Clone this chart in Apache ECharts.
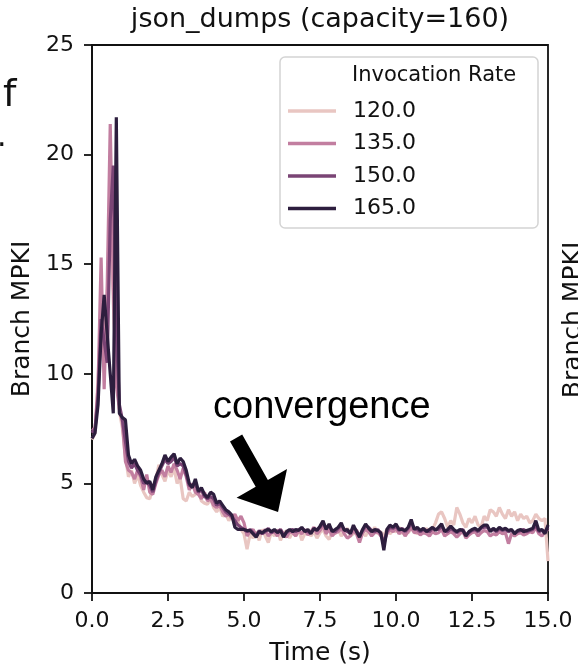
<!DOCTYPE html>
<html>
<head>
<meta charset="utf-8">
<script src="https://cdn.jsdelivr.net/npm/echarts@6/dist/echarts.min.js"></script>
<style>
  html, body { margin: 0; padding: 0; background: #fff; }
  #chart { width: 578px; height: 671px; }
</style>
</head>
<body>
<div id="chart"></div>
<script>
// sampled every 0.1 s, from 0.0 to 15.0
const timeStep = 0.1;
const rates = ['120.0', '135.0', '150.0', '165.0'];
const colors = ['#e9c6c2', '#c27ea0', '#7a4475', '#2d1e3e'];

const rate120 = [7.0,7.3,9.8,12.8,11.5,13.5,18.5,13.2,10.2,8.3,
  7.5,6.2,5.3,5.6,5.0,5.4,4.9,4.6,4.35,4.3,
  4.8,5.2,5.85,5.4,5.1,5.6,5.3,5.7,5.0,5.25,
  4.3,4.2,4.6,4.4,4.5,4.65,4.2,4.1,4.05,4.3,
  3.9,3.7,3.9,3.5,3.6,3.3,3.5,3.1,3.3,2.9,
  2.7,2.0,2.7,2.5,2.8,2.4,2.9,2.6,2.3,2.8,
  2.6,2.9,2.4,2.7,2.85,2.5,2.8,2.6,2.9,2.4,
  2.7,2.9,2.6,2.8,2.5,2.75,2.9,2.6,2.45,2.8,
  2.7,2.9,2.6,2.8,2.95,2.6,2.7,2.9,2.5,2.8,
  2.6,2.9,2.75,3.0,2.7,2.8,2.6,2.9,2.7,2.85,
  2.8,3.0,2.7,2.9,2.75,2.95,2.8,2.7,2.9,2.8,
  2.95,2.7,2.9,3.2,3.6,3.7,3.4,3.0,3.3,3.1,
  3.9,3.6,3.2,3.0,3.4,3.2,3.5,3.1,3.0,3.5,
  3.3,3.8,3.7,3.5,3.9,3.6,3.4,3.8,3.5,3.7,
  3.3,3.6,3.4,3.5,3.2,3.3,3.6,3.4,3.3,3.4,
  1.45];

const rate135 = [7.5,7.4,9.5,15.3,9.3,14.0,21.4,14.0,9.5,8.4,
  7.8,6.0,5.6,5.5,5.2,5.6,5.3,4.7,5.4,4.6,
  4.5,5.0,5.4,5.6,5.3,5.8,5.5,5.9,5.6,5.2,
  5.7,5.3,4.7,5.0,4.6,4.5,4.3,4.6,4.2,4.3,
  4.0,3.9,4.0,3.7,3.5,3.6,3.4,3.6,3.3,3.5,
  3.2,2.6,2.8,2.9,2.6,2.8,2.7,2.9,2.6,2.75,
  2.8,2.6,2.9,2.7,2.55,2.8,2.75,2.6,2.85,2.7,
  2.9,2.65,2.8,3.0,2.7,2.85,3.1,2.7,2.9,2.6,
  2.75,2.8,2.95,2.7,2.5,2.6,2.85,2.7,2.3,2.75,
  2.9,2.8,2.6,2.75,2.8,2.6,2.4,2.7,2.9,2.8,
  2.95,2.7,2.85,2.6,2.8,3.0,2.75,2.8,2.65,2.75,
  2.7,2.6,2.8,2.7,2.75,2.9,2.6,2.7,2.8,2.7,
  2.55,2.7,2.8,2.5,2.65,2.75,2.8,2.6,2.75,2.85,
  2.8,2.6,2.7,2.65,2.8,2.7,2.75,2.25,2.7,2.6,
  2.7,2.75,2.65,2.7,2.8,2.75,3.0,2.7,2.6,2.8,
  2.9];

const rate150 = [7.3,7.5,9.0,12.5,11.5,10.5,17.0,19.5,12.0,8.6,
  7.9,6.9,6.0,5.7,5.9,5.6,5.4,5.0,5.1,4.9,
  4.6,5.1,5.5,5.8,6.1,5.9,6.0,6.2,5.8,5.9,
  5.8,5.4,4.9,4.9,5.0,4.6,4.7,4.4,4.3,4.4,
  4.3,4.0,4.1,3.9,3.7,3.6,3.5,3.3,3.1,3.0,
  2.9,2.8,2.9,2.75,2.6,2.85,2.7,2.8,2.95,2.75,
  2.85,2.8,2.9,2.6,2.75,2.85,2.9,2.8,2.9,2.95,
  2.85,2.8,2.75,2.9,2.9,3.0,3.2,2.95,3.05,2.85,
  2.8,2.95,3.1,2.9,2.8,2.75,3.0,2.85,2.6,2.85,
  3.05,3.0,2.85,2.8,2.9,2.7,2.2,2.8,3.0,2.95,
  3.05,2.85,2.95,2.8,2.95,3.2,2.95,2.9,2.8,2.9,
  2.85,2.8,2.95,2.9,2.9,3.05,2.85,2.8,2.95,2.85,
  2.75,2.85,2.9,2.65,2.75,2.85,2.9,2.8,2.95,3.0,
  3.0,2.85,2.9,2.8,2.95,2.85,2.9,2.8,2.85,2.75,
  2.8,2.85,2.9,2.8,2.85,2.9,3.1,2.8,2.85,2.8,
  3.0];

const rate165 = [7.05,7.3,8.6,11.8,13.6,11.8,10.0,8.2,21.7,8.2,
  8.0,7.9,6.3,5.9,6.1,5.8,5.6,5.2,5.0,5.1,
  4.7,5.3,5.6,5.9,6.3,6.0,6.2,6.35,5.9,6.15,
  6.0,5.6,5.0,4.8,5.2,4.65,4.8,4.5,4.35,4.6,
  4.5,4.1,4.2,4.0,3.8,3.7,3.55,3.0,2.9,2.9,
  2.9,2.85,2.85,2.7,2.55,2.8,2.75,2.85,2.9,2.8,
  2.9,2.75,2.85,2.55,2.8,2.9,2.8,2.9,2.85,3.0,
  2.8,2.9,2.7,2.95,2.85,3.05,3.3,2.9,3.15,2.8,
  2.9,3.0,3.2,2.85,2.9,2.7,3.1,2.8,2.55,2.9,
  3.15,2.95,2.8,2.9,2.85,2.75,1.95,2.9,3.1,3.0,
  3.15,2.9,2.9,2.85,3.0,3.35,2.9,3.0,2.85,2.95,
  2.8,2.9,3.0,2.85,3.0,3.15,2.8,2.9,3.05,2.9,
  2.8,2.9,2.85,2.6,2.8,2.9,2.95,2.85,3.0,3.1,
  3.1,2.8,2.95,2.85,3.0,2.9,2.95,2.85,2.9,2.7,
  2.85,2.9,2.8,2.85,2.9,2.95,3.3,2.85,2.9,2.7,
  3.1];

const allRates = [rate120, rate135, rate150, rate165];

// annotation anchors in data units (time, MPKI)
const noteText = 'convergence';
const notePos = [3.98, 8.45];
const arrowFrom = [4.74, 7.07];
const arrowTo = [6.12, 3.69];

const font = 'DejaVu Sans';
const chart = echarts.init(document.getElementById('chart'));

let series = [];
for (let s = 0; s < allRates.length; s++) {
  let pts = [];
  for (let i = 0; i < allRates[s].length; i++) {
    pts.push([+(i * timeStep).toFixed(1), allRates[s][i]]);
  }
  series.push({
    name: rates[s],
    type: 'line',
    data: pts,
    showSymbol: false,
    symbol: 'none',
    color: colors[s],
    lineStyle: { width: 3.2, color: colors[s] },
    animation: false,
    clip: true
  });
}

chart.setOption({
  animation: false,
  title: {
    text: 'json_dumps (capacity=160)',
    left: 320, top: 6, padding: 0,
    textAlign: 'center',
    textStyle: { fontFamily: font, fontSize: 27, fontWeight: 'normal', color: '#111' }
  },
  grid: {
    left: 92, right: 30, top: 45, bottom: 71,
    show: true, borderColor: '#111', borderWidth: 1.8, backgroundColor: 'transparent'
  },
  legend: {
    data: rates,
    orient: 'vertical',
    left: 288, top: 100,
    itemWidth: 48, itemHeight: 3.5, itemGap: 10.5,
    icon: 'rect',
    padding: 0,
    z: 6,
    textStyle: { fontFamily: font, fontSize: 22, color: '#111', lineHeight: 22, padding: [0, 0, 0, 12] }
  },
  xAxis: {
    type: 'value', min: 0, max: 15, interval: 2.5,
    name: 'Time (s)', nameLocation: 'middle', nameGap: 48,
    nameTextStyle: { fontFamily: font, fontSize: 25, color: '#111' },
    axisLine: { show: true, lineStyle: { color: '#111', width: 1.8 } },
    axisTick: { show: true, length: 8, lineStyle: { color: '#111', width: 1.8 } },
    axisLabel: { fontFamily: font, fontSize: 22, color: '#111', margin: 17,
      formatter: v => v.toFixed(1) },
    splitLine: { show: false }
  },
  yAxis: {
    type: 'value', min: 0, max: 25, interval: 5,
    name: 'Branch MPKI', nameLocation: 'middle', nameGap: 55,
    nameTextStyle: { fontFamily: font, fontSize: 25, color: '#111' },
    axisLine: { show: true, lineStyle: { color: '#111', width: 1.8 } },
    axisTick: { show: true, length: 8, lineStyle: { color: '#111', width: 1.8 } },
    axisLabel: { fontFamily: font, fontSize: 22, color: '#111', margin: 18 },
    splitLine: { show: false }
  },
  series: series
});

// arrow + text, placed from data coordinates
const p0 = chart.convertToPixel({ gridIndex: 0 }, arrowFrom);
const p1 = chart.convertToPixel({ gridIndex: 0 }, arrowTo);
const pt = chart.convertToPixel({ gridIndex: 0 }, notePos);
let dx = p1[0] - p0[0], dy = p1[1] - p0[1];
let len = Math.sqrt(dx * dx + dy * dy);
let ux = dx / len, uy = dy / len;
let nx = -uy, ny = ux;
let headLen = 33, headHalf = 29, shaftHalf = 7;
let bx = p1[0] - ux * headLen, by = p1[1] - uy * headLen;
let arrowPts = [
  [p0[0] + nx * shaftHalf, p0[1] + ny * shaftHalf],
  [bx + nx * shaftHalf, by + ny * shaftHalf],
  [bx + nx * headHalf, by + ny * headHalf],
  [p1[0], p1[1]],
  [bx - nx * headHalf, by - ny * headHalf],
  [bx - nx * shaftHalf, by - ny * shaftHalf],
  [p0[0] - nx * shaftHalf, p0[1] - ny * shaftHalf]
];

chart.setOption({
  graphic: [
    // legend frame and title
    { type: 'rect', z: 5, shape: { x: 280, y: 57, width: 258, height: 171, r: 5 },
      style: { fill: 'rgba(255,255,255,0.85)', stroke: '#d4d4d4', lineWidth: 1.5 } },
    { type: 'text', z: 6, x: 352, y: 76,
      style: { text: 'Invocation Rate', fontFamily: font, fontSize: 21, fill: '#111', verticalAlign: 'middle' } },
    // note
    { type: 'text', z: 7, x: pt[0], y: pt[1],
      style: { text: noteText, fontFamily: 'Liberation Sans', fontSize: 38, fill: '#000', verticalAlign: 'middle' } },
    { type: 'polygon', z: 7, shape: { points: arrowPts }, style: { fill: '#000' } },
    // cut-off pieces of the neighbouring panels
    { type: 'text', x: 3, y: 96,
      style: { text: 'f', fontFamily: font, fontSize: 38, fill: '#111', verticalAlign: 'middle' } },
    { type: 'text', x: -3, y: 138,
      style: { text: '.', fontFamily: font, fontSize: 30, fill: '#111', verticalAlign: 'middle' } },
    { type: 'text', x: 573, y: 320, rotation: Math.PI / 2,
      style: { text: 'Branch MPKI', fontFamily: font, fontSize: 25, fill: '#111', align: 'center', verticalAlign: 'middle' } }
  ]
});
</script>
</body>
</html>
